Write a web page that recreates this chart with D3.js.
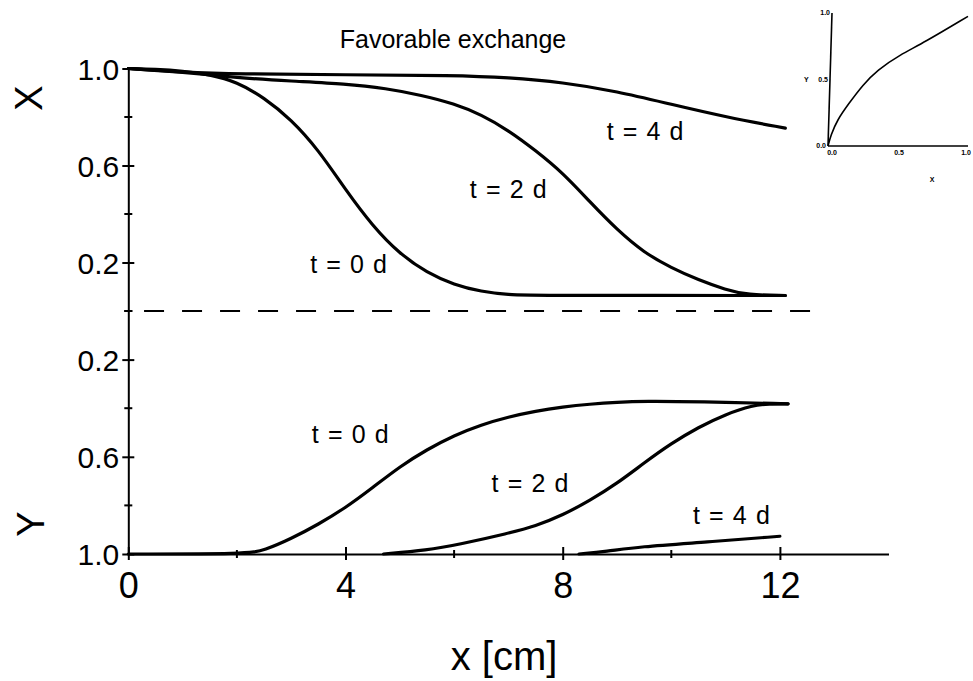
<!DOCTYPE html>
<html>
<head>
<meta charset="utf-8">
<script src="https://cdn.jsdelivr.net/npm/d3@7"></script>
<style>
  body { margin: 0; background: #fff; }
  svg { display: block; font-family: "Liberation Sans", Arial, sans-serif; }
</style>
</head>
<body>
<svg id="chart" width="973" height="681"></svg>
<script>
// Favorable exchange: X (top, upward) and Y (bottom, downward) profiles vs distance

// curves, [x in cm, value]
const topT0 = [[0, 1.0], [0.5, 0.997], [1.0, 0.99], [1.5, 0.975], [2.0, 0.945], [2.5, 0.88], [3.0, 0.79],
  [3.5, 0.665], [4.0, 0.5], [4.5, 0.35], [5.0, 0.235], [5.5, 0.158], [6.0, 0.108], [6.5, 0.08],
  [7.0, 0.067], [7.5, 0.064], [12.1, 0.064]];
const topT2 = [[0, 1.0], [1.0, 0.985], [2.0, 0.962], [3.0, 0.948], [4.0, 0.937], [4.75, 0.918], [5.4, 0.89],
  [6.0, 0.855], [6.5, 0.81], [7.0, 0.745], [7.5, 0.662], [8.0, 0.57], [8.5, 0.45], [9.0, 0.335],
  [9.5, 0.24], [10.0, 0.178], [10.5, 0.128], [11.0, 0.088], [11.4, 0.066], [12.1, 0.064]];
const topT4 = [[0, 1.0], [1.0, 0.985], [2.0, 0.977], [4.0, 0.974], [6.0, 0.972], [7.0, 0.963], [8.0, 0.943],
  [9.0, 0.906], [10.0, 0.852], [11.0, 0.8], [12.1, 0.754]];
const botT0 = [[0, 1.0], [2.2, 1.0], [2.5, 0.985], [3.0, 0.937], [3.5, 0.878], [4.0, 0.81], [4.5, 0.727],
  [5.0, 0.64], [5.5, 0.57], [6.0, 0.512], [6.5, 0.468], [7.0, 0.436], [7.5, 0.412], [8.0, 0.395],
  [8.5, 0.383], [9.0, 0.375], [9.5, 0.371], [10.5, 0.373], [12.15, 0.382]];
const botT2 = [[4.7, 1.0], [5.5, 0.985], [6.1, 0.96], [7.0, 0.915], [7.5, 0.885], [8.0, 0.84], [8.5, 0.78],
  [9.0, 0.71], [9.5, 0.625], [10.0, 0.545], [10.5, 0.478], [11.0, 0.425], [11.5, 0.388], [11.8, 0.382],
  [12.15, 0.382]];
const botT4 = [[8.3, 1.0], [8.8, 0.99], [9.4, 0.97], [10.65, 0.951], [12.0, 0.927]];

// equilibrium curve in the small inset, [X, Y]
const insetCurve = [[0, 0], [0.02, 0.08], [0.066, 0.196], [0.149, 0.32], [0.25, 0.46], [0.35, 0.57],
  [0.515, 0.686], [0.68, 0.774], [1.0, 0.975]];

const xMajorTicks = [0, 4, 8, 12];
const xMinorTicks = [2, 6, 10];
const vMajorTicks = [0.2, 0.6, 1.0];
const vMinorTicks = [0, 0.4, 0.8];
const insetTicks = [0, 0.5, 1.0];

const curveLabels = [
  { text: "t = 0 d", x: 3.35, v: 0.157, panel: "X" },
  { text: "t = 2 d", x: 6.29, v: 0.467, panel: "X" },
  { text: "t = 4 d", x: 8.81, v: 0.707, panel: "X" },
  { text: "t = 0 d", x: 3.38, v: 0.545, panel: "Y" },
  { text: "t = 2 d", x: 6.69, v: 0.746, panel: "Y" },
  { text: "t = 4 d", x: 10.4, v: 0.876, panel: "Y" }
];
const dashExtent = [0.29, 12.74];

const svg = d3.select("#chart");

const x = d3.scaleLinear().domain([0, 14]).range([128.3, 888.5]);
const yX = d3.scaleLinear().domain([0, 1]).range([311, 68.5]);
const yY = d3.scaleLinear().domain([0, 1]).range([311, 554]);

// axes
const yAxisTop = svg.append("g").attr("transform", `translate(${x(0)},0)`);
yAxisTop.call(d3.axisLeft(yX).tickValues(vMajorTicks).tickFormat(d3.format(".1f"))
  .tickSizeInner(6).tickSizeOuter(0).tickPadding(4));
const yAxisBot = svg.append("g").attr("transform", `translate(${x(0)},0)`);
yAxisBot.call(d3.axisLeft(yY).tickValues(vMajorTicks).tickFormat(d3.format(".1f"))
  .tickSizeInner(6).tickSizeOuter(0).tickPadding(4));
[yAxisTop, yAxisBot].forEach(g => {
  g.select(".domain").attr("stroke-width", 2);
  g.selectAll(".tick line").attr("x1", -6).attr("x2", 6).attr("stroke-width", 2);
  g.selectAll(".tick text").attr("font-size", 30).attr("font-family", "Liberation Sans, Arial")
    .attr("x", -9).attr("dy", "0.36em");
});
[yX, yY].forEach(s => {
  svg.append("g").selectAll("line").data(vMinorTicks).join("line")
    .attr("x1", x(0) - 4).attr("x2", x(0) + 4)
    .attr("y1", d => s(d)).attr("y2", d => s(d))
    .attr("stroke", "#000").attr("stroke-width", 2);
});

const xAxis = svg.append("g").attr("transform", `translate(0,${yY(1)})`);
xAxis.call(d3.axisBottom(x).tickValues(xMajorTicks).tickFormat(d3.format("d"))
  .tickSizeInner(7).tickSizeOuter(0));
xAxis.select(".domain").attr("stroke-width", 2);
xAxis.selectAll(".tick line").attr("y1", -7).attr("y2", 6).attr("stroke-width", 2);
xAxis.selectAll(".tick text").attr("font-size", 36).attr("font-family", "Liberation Sans, Arial")
  .attr("y", 44).attr("dy", 0);
svg.append("g").selectAll("line").data(xMinorTicks).join("line")
  .attr("x1", d => x(d)).attr("x2", d => x(d))
  .attr("y1", yY(1) - 4).attr("y2", yY(1) + 4)
  .attr("stroke", "#000").attr("stroke-width", 2);

// dashed separator at zero
svg.append("line")
  .attr("x1", x(dashExtent[0])).attr("x2", x(dashExtent[1]))
  .attr("y1", yX(0)).attr("y2", yX(0))
  .attr("stroke", "#000").attr("stroke-width", 2).attr("stroke-dasharray", "20 18");

// profiles
const lineX = d3.line().x(d => x(d[0])).y(d => yX(d[1])).curve(d3.curveBasis);
const lineY = d3.line().x(d => x(d[0])).y(d => yY(d[1])).curve(d3.curveBasis);
svg.append("g").selectAll("path").data([topT0, topT2, topT4]).join("path")
  .attr("d", lineX).attr("fill", "none").attr("stroke", "#000")
  .attr("stroke-width", 3.2).attr("stroke-linecap", "round");
svg.append("g").selectAll("path").data([botT0, botT2, botT4]).join("path")
  .attr("d", lineY).attr("fill", "none").attr("stroke", "#000")
  .attr("stroke-width", 3.2).attr("stroke-linecap", "round");

svg.append("g").selectAll("text").data(curveLabels).join("text")
  .attr("x", d => x(d.x))
  .attr("y", d => d.panel === "X" ? yX(d.v) : yY(d.v))
  .attr("font-size", 25).attr("letter-spacing", 1.1)
  .text(d => d.text);

// titles and axis names
svg.append("text").attr("x", 453).attr("y", 48).attr("text-anchor", "middle")
  .attr("font-size", 25).text("Favorable exchange");
svg.append("text").attr("transform", "translate(28,98) rotate(-90)")
  .attr("text-anchor", "middle").attr("dy", "0.36em").attr("font-size", 38).text("X");
svg.append("text").attr("transform", "translate(30,524) rotate(-90)")
  .attr("text-anchor", "middle").attr("dy", "0.36em").attr("font-size", 38).text("Y");
svg.append("text").attr("x", 504).attr("y", 670).attr("text-anchor", "middle")
  .attr("font-size", 40).text("x [cm]");

// inset: Y versus X
const ix = d3.scaleLinear().domain([0, 1]).range([828, 968]);
const iy = d3.scaleLinear().domain([0, 1]).range([146, 13]);
const inset = svg.append("g");
inset.append("line").attr("x1", ix(0)).attr("x2", ix(1.0)).attr("y1", iy(0)).attr("y2", iy(0))
  .attr("stroke", "#000").attr("stroke-width", 1.6);
inset.append("line").attr("x1", ix(0)).attr("x2", ix(0) + 4).attr("y1", iy(0)).attr("y2", iy(1))
  .attr("stroke", "#000").attr("stroke-width", 1.6);
inset.append("path").datum(insetCurve)
  .attr("d", d3.line().x(d => ix(d[0])).y(d => iy(d[1])).curve(d3.curveBasis))
  .attr("fill", "none").attr("stroke", "#000").attr("stroke-width", 1.6);
inset.selectAll(".ixl").data(insetTicks).join("text")
  .attr("x", d => ix(d) + 4 - 6 * d).attr("y", iy(0) + 9)
  .attr("text-anchor", "middle").attr("font-size", 7).attr("font-weight", "bold")
  .text(d3.format(".1f"));
inset.selectAll(".iyl").data(insetTicks).join("text")
  .attr("x", d => ix(0) - 2 + d * 4).attr("y", d => iy(d) + 2)
  .attr("text-anchor", "end").attr("font-size", 7).attr("font-weight", "bold")
  .text(d3.format(".1f"));
inset.append("text").attr("x", 804).attr("y", iy(0.5) + 2).attr("font-size", 7)
  .attr("font-weight", "bold").text("Y");
inset.append("text").attr("x", 932).attr("y", 182).attr("text-anchor", "middle")
  .attr("font-size", 7).attr("font-weight", "bold").text("X");
</script>
</body>
</html>
